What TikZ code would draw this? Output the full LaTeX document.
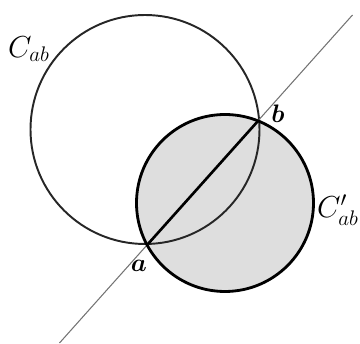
\documentclass[tikz,border=0pt]{standalone}
\usepackage{amsmath,amssymb}
\usepackage{xcolor}
\usepackage{tikz}
\usetikzlibrary{positioning,calc}

\begin{document}
\begin{tikzpicture}[
    x=0.02cm, y=-0.02cm,
    bigcirc/.style={draw=black!85, line width=1.1pt},
    smallcirc/.style={draw=black, line width=1.6pt},
    shade/.style={fill=black!13},
    chord/.style={draw=black, line width=1.5pt},
    thinline/.style={draw=black!55, line width=0.6pt},
    clabel/.style={font=\fontsize{18}{20}\selectfont, inner sep=0pt},
    plabel/.style={font=\fontsize{15}{17}\selectfont, inner sep=0pt}
]
    \useasboundingbox (0,0) rectangle (360,344);

    % Points
    \coordinate (cab) at (145,129.5);
    \coordinate (cabp) at (225,203);
    \coordinate (a) at (148,244);
    \coordinate (b) at (258,121);
    \coordinate (lineS) at (59.5,343);
    \coordinate (lineE) at (352.5,15);

    % Circles
    \path[shade] (cabp) circle (88.5);
    \path[bigcirc] (cab) circle (114.5);
    \path[thinline] (lineS) -- (lineE);
    \path[chord] (a) -- (b);
    \path[smallcirc] (cabp) circle (88.5);

    % Labels
    \node[clabel] (lblcab) at (29,49) {$C_{ab}$};
    \node[clabel] (lblcabp) at (338,210) {$C'_{ab}$};
    \node[plabel] (lbla) at (139,266) {$\boldsymbol{a}$};
    \node[plabel] (lblb) at (278,114) {$\boldsymbol{b}$};
\end{tikzpicture}
\end{document}
